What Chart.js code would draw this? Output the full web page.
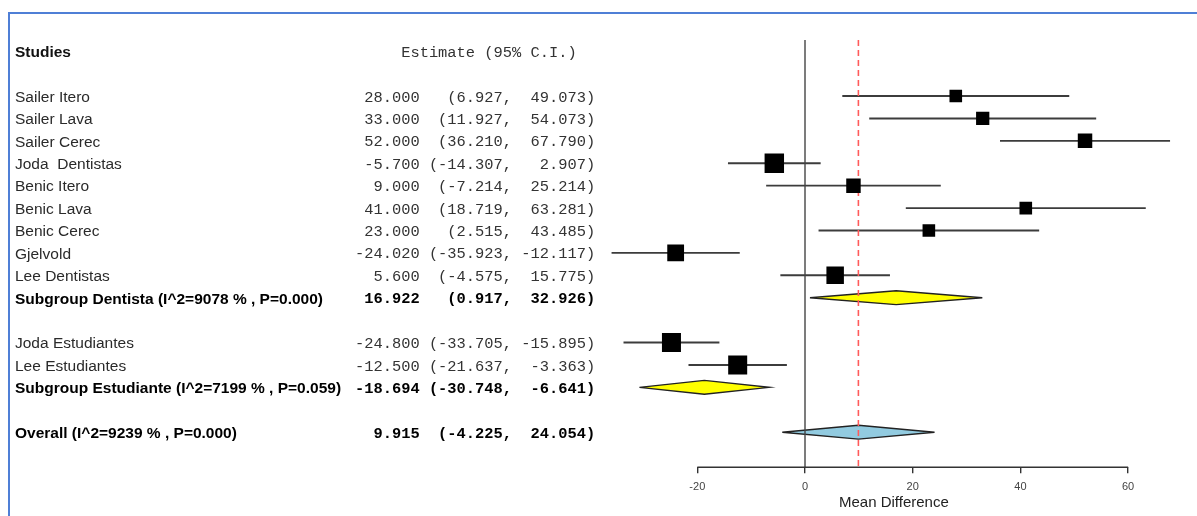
<!DOCTYPE html>
<html><head><meta charset="utf-8">
<script src="https://cdn.jsdelivr.net/npm/chart.js@4.4.1/dist/chart.umd.min.js"></script>
<style>
html,body{margin:0;padding:0;background:#fff;width:1197px;height:516px;overflow:hidden;}
#frame{position:absolute;left:8px;top:12px;right:-4px;bottom:-4px;border-left:2px solid #4f7fd6;border-top:2px solid #4f7fd6;}
#c{position:absolute;left:0;top:0;}
</style></head><body>
<div id="frame"></div>
<canvas id="c" width="1197" height="516"></canvas>
<script>
// ---- data ----
const labels = ['Sailer Itero','Sailer Lava','Sailer Cerec','Joda  Dentistas','Benic Itero','Benic Lava','Benic Cerec','Gjelvold','Lee Dentistas',
  'Subgroup Dentista (I^2=9078 % , P=0.000)','Joda Estudiantes','Lee Estudiantes','Subgroup Estudiante (I^2=7199 % , P=0.059)','Overall (I^2=9239 % , P=0.000)'];
const kinds = ['study','study','study','study','study','study','study','study','study','subgroup','study','study','subgroup','overall'];
const rows = [2,3,4,5,6,7,8,9,10,11,13,14,15,17];
const estimates = [28.000, 33.000, 52.000, -5.700, 9.000, 41.000, 23.000, -24.020, 5.600, 16.922, -24.800, -12.500, -18.694, 9.915];
const lower = [6.927, 11.927, 36.210, -14.307, -7.214, 18.719, 2.515, -35.923, -4.575, 0.917, -33.705, -21.637, -30.748, -4.225];
const upper = [49.073, 54.073, 67.790, 2.907, 25.214, 63.281, 43.485, -12.117, 15.775, 32.926, -15.895, -3.363, -6.641, 24.054];
const weights = [6.6, 7.3, 8.7, 15.7, 8.7, 6.6, 6.6, 11.7, 12.7, null, 15.0, 15.0, null, null];
const xTicks = [-20, 0, 20, 40, 60];
const headerStudies = 'Studies';
const headerEstimate = 'Estimate (95% C.I.)';

// ---- styles ----
const DIAMOND_HALF = 0.31;
const SQUARE_K = 3.47;
const TEXT_DY = 1.5;
const NAME_FONT = '15.5px "Liberation Sans", Arial, sans-serif';
const NAME_BOLD = 'bold 15.5px "Liberation Sans", Arial, sans-serif';
const MONO_FONT = '15.4px "Liberation Mono", "Courier New", monospace';
const MONO_BOLD = 'bold 15.4px "Liberation Mono", "Courier New", monospace';

const ciData = [];
const sqData = [];
const sqRadius = [];
kinds.forEach((k, i) => {
  if (k === 'study') {
    ciData.push({x: lower[i], y: rows[i]}, {x: upper[i], y: rows[i]}, {x: upper[i], y: null});
    sqData.push({x: estimates[i], y: rows[i]});
    sqRadius.push(SQUARE_K * Math.sqrt(weights[i]));
  }
});
function diamond(i) {
  const r = rows[i];
  return [{x: lower[i], y: r}, {x: estimates[i], y: r - DIAMOND_HALF}, {x: upper[i], y: r}, {x: estimates[i], y: r + DIAMOND_HALF}, {x: lower[i], y: r}];
}
const diamondSets = [];
kinds.forEach((k, i) => {
  if (k !== 'study') {
    diamondSets.push({
      type: 'line', data: diamond(i), fill: 'shape', tension: 0,
      backgroundColor: k === 'overall' ? '#92cbe0' : '#ffff00',
      borderColor: '#222', borderWidth: 1.4, pointRadius: 0, order: 3
    });
  }
});
const overallIdx = kinds.indexOf('overall');
const yMin = -0.5, yMax = 18.5625;

const textPlugin = {
  id: 'forestText',
  afterDraw(chart) {
    const {ctx, scales: {x, y}, chartArea} = chart;
    ctx.save();
    // axis line from first to last tick
    ctx.strokeStyle = '#333'; ctx.lineWidth = 1.4;
    ctx.beginPath();
    ctx.moveTo(x.getPixelForValue(xTicks[0]), chartArea.bottom);
    ctx.lineTo(x.getPixelForValue(xTicks[xTicks.length - 1]), chartArea.bottom);
    ctx.stroke();
    ctx.textBaseline = 'middle';
    ctx.textAlign = 'left';
    ctx.fillStyle = '#111';
    ctx.font = NAME_BOLD;
    ctx.fillText(headerStudies, 15, y.getPixelForValue(0) + TEXT_DY);
    ctx.font = MONO_FONT; ctx.fillStyle = '#333';
    ctx.fillText('     ' + headerEstimate, 355, y.getPixelForValue(0) + TEXT_DY);
    labels.forEach((lab, i) => {
      const py = y.getPixelForValue(rows[i]) + TEXT_DY;
      const bold = kinds[i] !== 'study';
      ctx.font = bold ? NAME_BOLD : NAME_FONT;
      ctx.fillStyle = bold ? '#000' : '#2a2a2a';
      ctx.fillText(lab, 15, py);
      const s = estimates[i].toFixed(3).padStart(7) + ' ' + ('(' + lower[i].toFixed(3) + ',').padStart(9) + ' ' + upper[i].toFixed(3).padStart(7) + ')';
      ctx.font = bold ? MONO_BOLD : MONO_FONT;
      ctx.fillStyle = bold ? '#000' : '#333';
      ctx.fillText(s, 355, py);
    });
    ctx.restore();
  }
};

new Chart(document.getElementById('c'), {
  type: 'line',
  data: {
    datasets: [
      {type: 'line', data: sqData, showLine: false, pointStyle: 'rect', pointRadius: sqRadius, pointHoverRadius: sqRadius,
       pointBackgroundColor: '#000', pointBorderColor: '#000', pointBorderWidth: 0, order: 0},
      {type: 'line', data: [{x: 0, y: yMin}, {x: 0, y: yMax}], borderColor: '#444', borderWidth: 1.4, pointRadius: 0, order: 1},
      {type: 'line', data: [{x: estimates[overallIdx], y: yMin}, {x: estimates[overallIdx], y: yMax}], borderColor: '#ff5a5a', borderWidth: 1.6, borderDash: [6, 4], pointRadius: 0, order: 2},
      ...diamondSets,
      {type: 'line', data: ciData, borderColor: '#3c3c3c', borderWidth: 1.9, pointRadius: 0, spanGaps: false, order: 4}
    ]
  },
  options: {
    responsive: false, animation: false, devicePixelRatio: 1,
    layout: {padding: {left: 608.45, right: 17.74, top: 40, bottom: 4.6}},
    plugins: {legend: {display: false}, tooltip: {enabled: false}},
    events: [],
    scales: {
      x: {type: 'linear', min: -36.5, max: 69.5,
        afterBuildTicks: s => { s.ticks = xTicks.map(v => ({value: v})); },
        ticks: {font: {family: 'Liberation Sans', size: 11}, color: '#444', padding: 7},
        grid: {drawOnChartArea: false, drawTicks: true, tickLength: 6, color: '#333', lineWidth: 1.4},
        border: {display: false},
        title: {display: true, text: 'Mean Difference', font: {family: 'Liberation Sans', size: 15}, color: '#222', padding: {top: -7, bottom: 0}}
      },
      y: {type: 'linear', reverse: true, min: yMin, max: yMax, display: false}
    }
  },
  plugins: [textPlugin]
});
</script>
</body></html>
